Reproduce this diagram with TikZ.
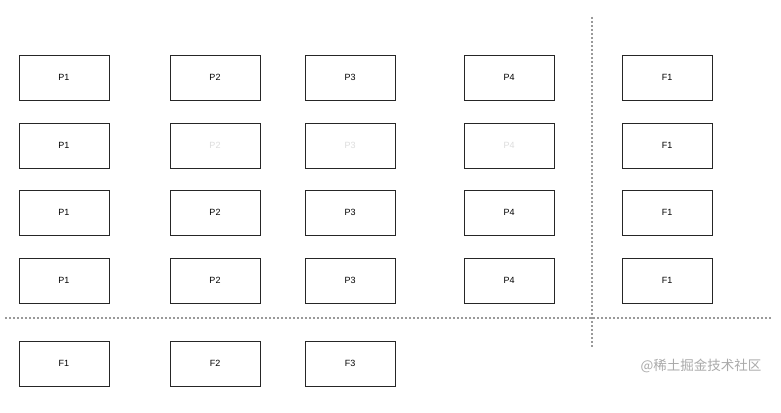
\documentclass[tikz,border=0pt]{standalone}
\usepackage{fontspec}
\setmainfont{Liberation Sans}
\newfontfamily\cjk{Noto Sans CJK SC}
\definecolor{faded}{HTML}{DDDDDD}
\definecolor{dashgray}{HTML}{999999}
\definecolor{wm}{HTML}{AAAAAA}
\begin{document}
\begin{tikzpicture}[x=1pt,y=-1pt,
  box/.style={draw=black!85,line width=0.8pt,minimum width=90pt,minimum height=45pt,inner sep=0pt,font=\fontsize{9}{10}\selectfont},
  fadedbox/.style={box,text=faded},
  sep/.style={draw=dashgray,line width=1.2pt,dash pattern=on 2pt off 2pt}]
\useasboundingbox (0,0) rectangle (781,412);
\fill[white] (0,0) rectangle (781,412);
% rows
\node[box] (r1p1) at (64,77.5) {P1};
\node[box] (r1p2) at (215,77.5) {P2};
\node[box] (r1p3) at (350,77.5) {P3};
\node[box] (r1p4) at (509,77.5) {P4};
\node[box] (r1f1) at (667,77.5) {F1};
\node[box] (r2p1) at (64,145.5) {P1};
\node[fadedbox] (r2p2) at (215,145.5) {P2};
\node[fadedbox] (r2p3) at (350,145.5) {P3};
\node[fadedbox] (r2p4) at (509,145.5) {P4};
\node[box] (r2f1) at (667,145.5) {F1};
\node[box] (r3p1) at (64,212.5) {P1};
\node[box] (r3p2) at (215,212.5) {P2};
\node[box] (r3p3) at (350,212.5) {P3};
\node[box] (r3p4) at (509,212.5) {P4};
\node[box] (r3f1) at (667,212.5) {F1};
\node[box] (r4p1) at (64,280.5) {P1};
\node[box] (r4p2) at (215,280.5) {P2};
\node[box] (r4p3) at (350,280.5) {P3};
\node[box] (r4p4) at (509,280.5) {P4};
\node[box] (r4f1) at (667,280.5) {F1};
\node[box] (b1) at (64,363.5) {F1};
\node[box] (b2) at (215,363.5) {F2};
\node[box] (b3) at (350,363.5) {F3};
% separators
\coordinate (hl) at (5,318);
\coordinate (hr) at (771,318);
\coordinate (vt) at (592,17);
\coordinate (vb) at (592,348);
\draw[sep] (hl) -- (hr);
\draw[sep] (vt) -- (vb);
% watermark
\node[text=wm,font=\cjk\fontsize{13.5}{15}\selectfont,anchor=east] (wmk) at (765,366) {@稀土掘金技术社区};
\end{tikzpicture}
\end{document}
